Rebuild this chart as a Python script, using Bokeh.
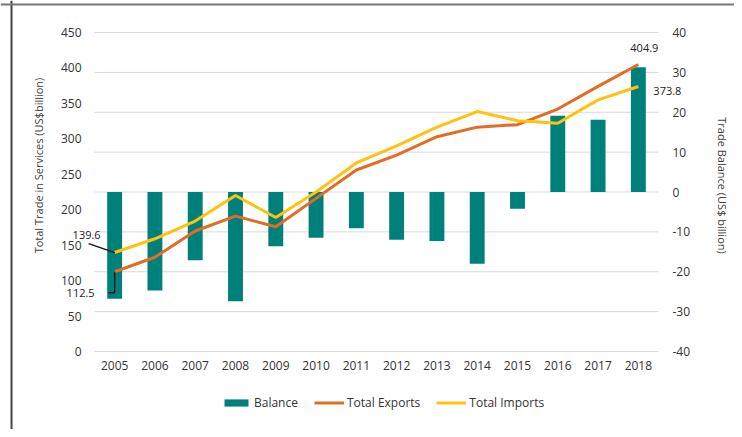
import math
from bokeh.plotting import figure
from bokeh.models import (Range1d, LinearAxis, FixedTicker, Label, Arrow, Span,
                          Legend, LegendItem, CustomJSTickFormatter)
from bokeh.embed import file_html
from bokeh.resources import INLINE

years = [2005, 2006, 2007, 2008, 2009, 2010, 2011, 2012, 2013, 2014, 2015, 2016, 2017, 2018]
balance = [-26.8, -24.7, -17.1, -27.4, -13.6, -11.5, -9.1, -12.0, -12.3, -18.0, -4.2, 19.1, 18.1, 31.3]
exports = [112.5, 133.0, 170.0, 191.0, 176.0, 216.0, 256.0, 277.0, 303.0, 316.5, 320.0, 342.0, 374.0, 404.9]
imports = [139.6, 159.0, 184.0, 220.0, 189.0, 225.0, 266.0, 290.0, 316.5, 338.5, 325.5, 322.0, 355.0, 373.8]
left_ticks = [0, 50, 100, 150, 200, 250, 300, 350, 400, 450]
right_ticks = [-40, -30, -20, -10, 0, 10, 20, 30, 40]

TEAL = "#00807B"
ORANGE = "#E36C25"
YELLOW = "#FFC20E"
FONT = "Open Sans"
TXT = "#333333"

W, H = 734, 429
# plot area (pixels in the canvas) where the axes sit
FL, FR, FT, FB = 94, 658, 32, 351
xs0, xs1 = years[0] - 0.5, years[-1] + 0.5
pxx = (FR - FL) / (xs1 - xs0)
ly0, ly1 = left_ticks[0], left_ticks[-1]
pyl = (FB - FT) / (ly1 - ly0)
ry0, ry1 = right_ticks[0], right_ticks[-1]
pyr = (FB - FT) / (ry1 - ry0)

p = figure(width=W, height=H,
           x_range=Range1d(xs0 - FL / pxx, xs1 + (W - FR) / pxx),
           y_range=Range1d(ly0 - (H - FB) / pyl, ly1 + FT / pyl),
           output_backend="svg", toolbar_location=None,
           min_border_left=0, min_border_right=0, min_border_top=0, min_border_bottom=0)
p.extra_y_ranges = {"bal": Range1d(ry0 - (H - FB) / pyr, ry1 + FT / pyr)}
p.outline_line_color = None
p.xgrid.visible = False
p.ygrid.visible = False

# gridlines (right axis ticks), limited to the plot area
p.segment(x0=[xs0] * len(right_ticks), x1=[xs1] * len(right_ticks), y0=right_ticks, y1=right_ticks,
          y_range_name="bal", line_color="#d9d9d9", line_width=1, level="underlay")

bars = p.vbar(x=years, top=balance, width=0.37, y_range_name="bal", fill_color=TEAL, line_color=None)
lex = p.line(years, exports, line_color=ORANGE, line_width=3)
lim = p.line(years, imports, line_color=YELLOW, line_width=3)

plain = CustomJSTickFormatter(code="return String(tick);")

# axes, fixed at the plot-area edges
xax = p.below[0]
lax = p.left[0]
xax.ticker = FixedTicker(ticks=years)
xax.fixed_location = ly0
lax.ticker = FixedTicker(ticks=left_ticks)
lax.fixed_location = xs0
rax = LinearAxis(y_range_name="bal", ticker=FixedTicker(ticks=right_ticks), fixed_location=xs1)
p.add_layout(rax, "right")
for ax in [xax, lax, rax]:
    ax.axis_line_color = None
    ax.major_tick_line_color = None
    ax.minor_tick_line_color = None
    ax.major_tick_out = 0
    ax.major_tick_in = 0
    ax.minor_tick_out = 0
    ax.minor_tick_in = 0
    ax.formatter = plain
    ax.major_label_text_font = FONT
    ax.major_label_text_font_size = "12px"
    ax.major_label_text_color = TXT
xax.major_label_standoff = 9
lax.major_label_standoff = 13
rax.major_label_standoff = 14

# axis titles
title_kw = dict(text_align="center", text_baseline="middle", text_font=FONT,
                text_font_size="11px", text_color="#404040")
p.add_layout(Label(x=xs0, y=ly0 + (FB - 165) / pyl, x_offset=-56.5,
                   text="Total Trade in Services (US$billion)", angle=math.pi / 2, **title_kw))
p.add_layout(Label(x=xs1, y=ly0 + (FB - 185) / pyl, x_offset=64,
                   text="Trade Balance (US$ billion)", angle=-math.pi / 2, **title_kw))

# data labels
lab_kw = dict(text_font=FONT, text_font_size="11px", text_color="#222222", text_baseline="middle")
p.add_layout(Label(x=years[0], y=imports[0], x_offset=-14, y_offset=18, text=f"{imports[0]}",
                   text_align="right", **lab_kw))
p.add_layout(Label(x=years[0], y=exports[0], x_offset=-20, y_offset=-21, text=f"{exports[0]}",
                   text_align="right", **lab_kw))
p.add_layout(Label(x=years[-1], y=exports[-1], x_offset=6, y_offset=16, text=f"{exports[-1]}",
                   text_align="center", **lab_kw))
p.add_layout(Label(x=years[-1], y=imports[-1], x_offset=15, y_offset=-4, text=f"{imports[-1]}",
                   text_align="left", **lab_kw))

# leader lines
ak = dict(end=None, line_color="#111111", line_width=1.3)
p.add_layout(Arrow(x_start=years[0], y_start=imports[0], x_end=years[0] - 26 / pxx,
                   y_end=imports[0] + 9 / pyl, **ak))
p.add_layout(Arrow(x_start=years[0], y_start=exports[0], x_end=years[0],
                   y_end=exports[0] - 21 / pyl, **ak))
p.add_layout(Arrow(x_start=years[0], y_start=exports[0] - 21 / pyl, x_end=years[0] - 6 / pxx,
                   y_end=exports[0] - 21 / pyl, **ak))

# page edges of the original figure
p.add_layout(Span(location=xs0 - (FL - 11) / pxx, dimension="height", line_color="#444444", line_width=2))
p.add_layout(Span(location=ly1 + (FT - 4) / pyl, dimension="width", line_color="#777777", line_width=2))

legend = Legend(items=[LegendItem(label="Balance", renderers=[bars]),
                       LegendItem(label="Total Exports", renderers=[lex]),
                       LegendItem(label="Total Imports", renderers=[lim])],
                orientation="horizontal", location=(221, 18),
                border_line_color=None, background_fill_alpha=0,
                glyph_width=30, glyph_height=9, label_height=14, label_standoff=3, spacing=16,
                label_text_font=FONT, label_text_font_size="12px", label_text_color=TXT,
                padding=0, margin=0)
p.add_layout(legend)

open("out.html", "w").write(file_html(p, INLINE))
